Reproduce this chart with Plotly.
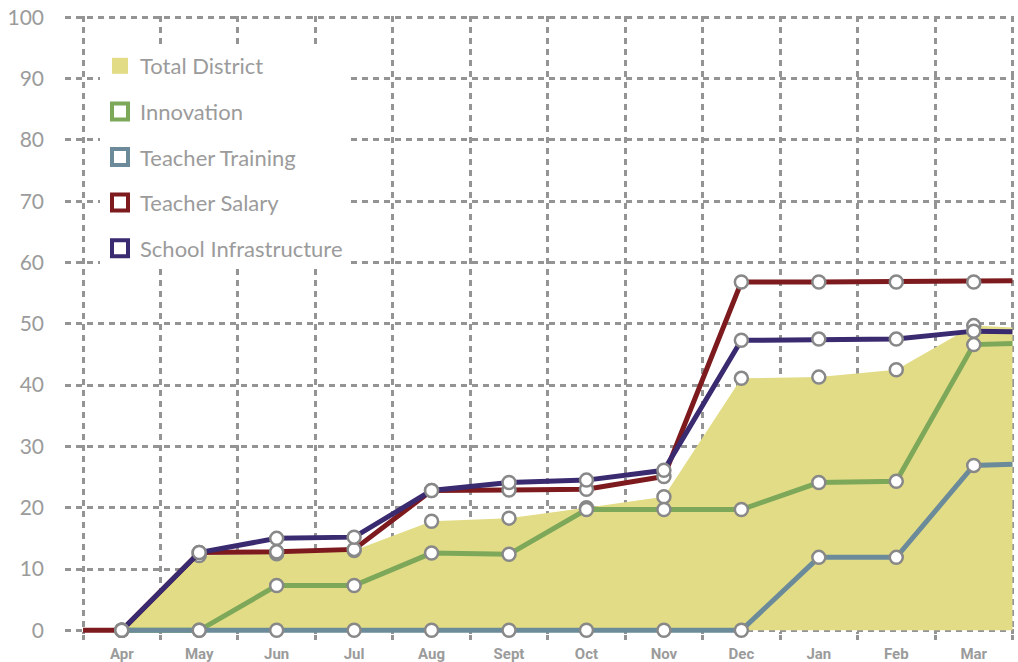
import plotly.graph_objects as go

# ---------------- data ----------------
months = ["Apr", "May", "Jun", "Jul", "Aug", "Sept", "Oct", "Nov", "Dec", "Jan", "Feb", "Mar"]
y_ticks = [0, 10, 20, 30, 40, 50, 60, 70, 80, 90, 100]

total_district = [0, 12.2, 12.5, 13.0, 17.8, 18.3, 20.0, 21.8, 41.1, 41.3, 42.5, 49.7]
innovation = [0, 0, 7.3, 7.3, 12.6, 12.4, 19.7, 19.7, 19.7, 24.1, 24.3, 46.6]
teacher_training = [0, 0, 0, 0, 0, 0, 0, 0, 0, 11.9, 11.9, 26.9]
teacher_salary = [0, 12.7, 12.8, 13.2, 22.8, 22.9, 23.0, 25.1, 56.8, 56.8, 56.8, 56.8]
school_infrastructure = [0, 12.7, 15.0, 15.2, 22.8, 24.1, 24.5, 26.1, 47.3, 47.5, 47.5, 48.8]

# values where the lines run on to the frame edges
teacher_salary_start = 0
total_district_end = 49.4
innovation_end = 46.8
teacher_training_end = 27.1
teacher_salary_end = 57.0
school_infrastructure_end = 48.7

# ---------------- styles ----------------
C_FILL = "#e2dc86"
C_GREEN = "#7da85a"
C_TEAL = "#6b8b9b"
C_RED = "#7d1a1e"
C_PURPLE = "#3a2a6f"
C_GRID = "#949494"
C_TEXT = "#9b9b9b"

n = len(months)
idx = list(range(n))
left_edge = -0.5
right_edge = n - 0.5


def build(values, end, start=None):
    xs = list(idx) + [right_edge]
    ys = list(values) + [end]
    op = [1] * n + [0]
    if start is not None:
        xs = [left_edge] + xs
        ys = [start] + ys
        op = [0] + op
    return xs, ys, op


marker_base = dict(size=13, color="white", line=dict(color="#888888", width=2.5))

fig = go.Figure()

# Total District area
xs, ys, op = build(total_district, total_district_end)
fig.add_trace(go.Scatter(
    x=xs, y=ys, mode="lines+markers", fill="tozeroy", fillcolor=C_FILL,
    line=dict(width=0, color=C_FILL), marker=dict(**marker_base, opacity=op),
    showlegend=False, cliponaxis=False))

for vals, end, start, col in [
    (teacher_salary, teacher_salary_end, teacher_salary_start, C_RED),
    (school_infrastructure, school_infrastructure_end, None, C_PURPLE),
    (innovation, innovation_end, None, C_GREEN),
    (teacher_training, teacher_training_end, None, C_TEAL),
]:
    xs, ys, op = build(vals, end, start)
    fig.add_trace(go.Scatter(
        x=xs, y=ys, mode="lines+markers",
        line=dict(width=5, color=col),
        marker=dict(**marker_base, opacity=op),
        showlegend=False, cliponaxis=False))

# legend entries
legend_items = [
    ("Total District", dict(symbol="square", size=16, color=C_FILL, line=dict(width=0))),
    ("Innovation", dict(symbol="square-open", size=16, color=C_GREEN, line=dict(width=4, color=C_GREEN))),
    ("Teacher Training", dict(symbol="square-open", size=16, color=C_TEAL, line=dict(width=4, color=C_TEAL))),
    ("Teacher Salary", dict(symbol="square-open", size=16, color=C_RED, line=dict(width=4, color=C_RED))),
    ("School Infrastructure", dict(symbol="square-open", size=16, color=C_PURPLE, line=dict(width=4, color=C_PURPLE))),
]
for name, mk in legend_items:
    fig.add_trace(go.Scatter(x=[None], y=[None], mode="markers", name=name,
                             marker=mk, legendgroup=name, showlegend=True))

M_L, M_R, M_T, M_B = 65, 4, 16, 28
plot_w = 1018 - M_L - M_R
plot_h = 662 - M_T - M_B

fig.update_layout(
    width=1018, height=662,
    margin=dict(l=M_L, r=M_R, t=M_T, b=M_B, autoexpand=False),
    paper_bgcolor="white", plot_bgcolor="white",
    font=dict(family="Lato", color=C_TEXT, size=22),
    legend=dict(
        xref="paper", yref="paper",
        x=(100 - M_L) / plot_w, y=1 - (45 - M_T) / plot_h,
        xanchor="left", yanchor="top",
        bgcolor="white", borderwidth=0,
        font=dict(family="Lato", size=22, color=C_TEXT),
        traceorder="grouped", tracegroupgap=14, itemsizing="trace",
    ),
)

fig.update_xaxes(
    range=[-0.733, 11.52], automargin=False,
    tickmode="array", tickvals=idx, ticktext=months,
    showgrid=False, zeroline=False, showline=False,
    tickfont=dict(family="Roboto", size=15, color=C_TEXT, weight="bold"),
    ticks="", ticklabelstandoff=9,
    minor=dict(tickmode="array", tickvals=[i - 0.5 for i in range(n + 1)],
               showgrid=True, gridcolor=C_GRID, gridwidth=2.5, griddash="6px,5px",
               ticks="outside", ticklen=5, tickcolor=C_GRID, tickwidth=2.5),
)
fig.update_yaxes(
    range=[-0.6, 100.2], automargin=False,
    tickmode="array", tickvals=y_ticks,
    showgrid=True, gridcolor=C_GRID, gridwidth=2.5, griddash="6px,5px",
    zeroline=False, showline=False,
    tickfont=dict(family="Lato", size=21, color=C_TEXT),
    ticklabelstandoff=20,
)

fig.write_html(
    "out.html",
    config={"displayModeBar": False},
    post_script="document.body.style.margin='0';document.body.style.overflow='hidden';",
)
